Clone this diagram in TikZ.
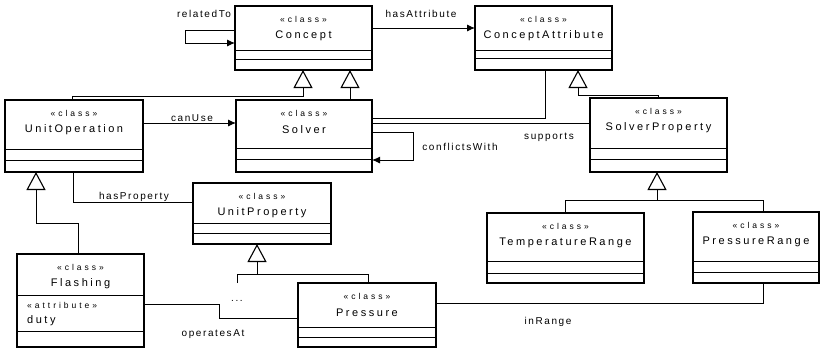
\documentclass[tikz,border=0pt]{standalone}
\usepackage{fontspec}
\setmainfont{Liberation Sans}
\newfontfamily\umlfont[LetterSpace=23]{Liberation Sans}
\newfontfamily\stfont[LetterSpace=35]{Liberation Sans}
\newfontfamily\lblfont[LetterSpace=16]{Liberation Sans}
\usetikzlibrary{arrows.meta}
\tikzset{
  box/.style={draw, line width=1.2pt, inner sep=0pt, outer sep=0pt, rectangle},
  sep/.style={line width=1pt},
  stereo/.style={font=\stfont\fontsize{8.5}{9}\selectfont, inner sep=0pt},
  cname/.style={font=\umlfont\fontsize{11}{12}\selectfont, inner sep=0pt},
  lbl/.style={font=\lblfont\fontsize{10}{11}\selectfont, inner sep=0pt},
  assoc/.style={line width=0.9pt},
  nav/.style={assoc, -{Latex[length=8pt,width=7pt]}},
  gen/.style={line width=0.9pt, -{Triangle[open,length=18pt,width=19pt,line width=1.1pt]}},
}
\newcommand\umlbox[8]{%
  \node[box, minimum width=#4pt, minimum height=#5pt, anchor=north west] (#1) at (#2,#3) {};
  \draw[sep] ([yshift=-#6pt]#1.north west) -- ([yshift=-#6pt]#1.north east);
  \draw[sep] ([yshift=-#7pt]#1.north west) -- ([yshift=-#7pt]#1.north east);
  \node[stereo] (#1-st) at ([yshift=-13pt]#1.north) {«class»};
  \node[cname] (#1-nm) at ([yshift=-30pt]#1.north) {#8};
}
\begin{document}
\begin{tikzpicture}[x=1pt,y=-1pt]
\useasboundingbox[fill=white] (0,0) rectangle (822,351);
% classes
\umlbox{concept}{235}{6}{137}{64}{44}{53}{Concept}
\umlbox{cattr}{475}{6}{137}{64}{44}{52}{ConceptAttribute}
\umlbox{unitop}{5}{100}{138}{72}{49}{60}{UnitOperation}
\umlbox{solver}{236}{100}{136}{72}{48}{59}{Solver}
\umlbox{sprop}{590}{98}{137}{74}{50}{61}{SolverProperty}
\umlbox{uprop}{193}{183}{138}{61}{40}{50}{UnitProperty}
\umlbox{trange}{487}{213}{157}{70}{48}{60}{TemperatureRange}
\umlbox{prange}{693}{212}{126}{71}{49}{60}{PressureRange}
\umlbox{flash}{17}{254}{127}{93}{41}{77}{Flashing}
\umlbox{press}{298}{283}{138}{64}{44}{54}{Pressure}
\node[stereo, anchor=west] (attr) at (27,305) {«attribute»};
\node[cname, anchor=west] (duty) at (27,321) {duty};

% generalizations
\draw[gen] (solver.north -| 350,0) -- (concept.south -| 350,0);
\draw[gen] (unitop.north -| 72,0) -- (72,96) -- (303,96) -- (concept.south -| 303,0);
\draw[gen] (sprop.north -| 658,0) -- (658,95) -- (578,95) -- (cattr.south -| 578,0);
\draw[gen] (flash.north -| 78,0) -- (78,223) -- (36,223) -- (unitop.south -| 36,0);
\draw[gen] (trange.north -| 565,0) -- (565,200) -- (657,200) -- (sprop.south -| 657,0);
\draw[assoc] (prange.north -| 763,0) -- (763,200) -- (657,200);
\draw[gen] (press.north -| 368,0) -- (368,274) -- (257,274) -- (uprop.south -| 257,0);
\coordinate (more) at (237,283);
\draw[assoc] (more) -- (237,274) -- (257,274);
\node[lbl] (dots) at (237,301) {...};

% associations
\draw[nav] (concept.west |- 0,30) -- (185,30) -- (185,43) -- (concept.west |- 0,43);
\node[lbl] (relto) at (204,14) {relatedTo};
\draw[nav] (concept.east |- 0,28) -- (cattr.west |- 0,28);
\node[lbl] (hasattr) at (421,14) {hasAttribute};
\draw[nav] (unitop.east |- 0,123) -- (solver.west |- 0,123);
\node[lbl] (canuse) at (192,118) {canUse};
\draw[assoc] (unitop.south -| 73,0) -- (73,202) -- (uprop.west |- 0,202);
\node[lbl] (hasprop) at (134,197) {hasProperty};
\draw[assoc] (solver.east |- 0,118) -- (545,118) -- (cattr.south -| 545,0);
\draw[assoc] (solver.east |- 0,123) -- (sprop.west |- 0,123);
\node[lbl] (supports) at (549,137) {supports};
\draw[nav] (solver.east |- 0,132) -- (413,132) -- (413,160) -- (solver.east |- 0,160);
\node[lbl] (confl) at (460,147) {conflictsWith};
\draw[assoc] (flash.east |- 0,304) -- (219,304) -- (219,318) -- (press.west |- 0,318);
\node[lbl] (opat) at (213,334) {operatesAt};
\draw[assoc] (press.east |- 0,303) -- (763,303) -- (prange.south -| 763,0);
\node[lbl] (inrange) at (548,322) {inRange};
\end{tikzpicture}
\end{document}
